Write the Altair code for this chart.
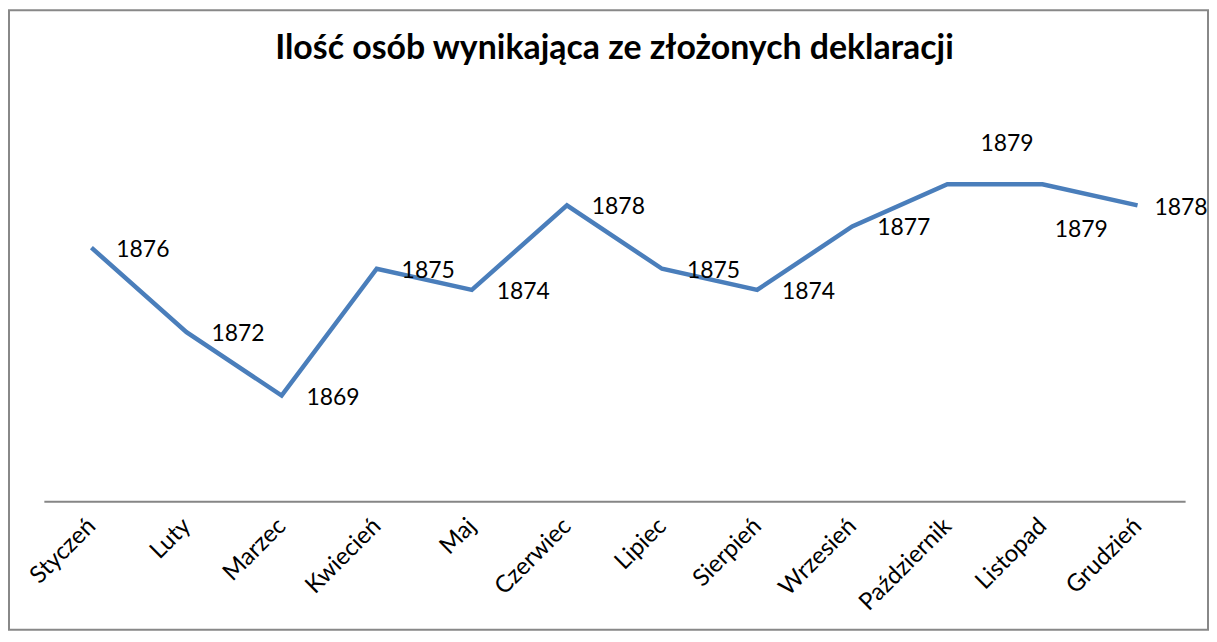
import altair as alt
import pandas as pd

months = ["Styczeń", "Luty", "Marzec", "Kwiecień", "Maj", "Czerwiec",
          "Lipiec", "Sierpień", "Wrzesień", "Październik", "Listopad", "Grudzień"]
values = [1876, 1872, 1869, 1875, 1874, 1878, 1875, 1874, 1877, 1879, 1879, 1878]
title_text = "Ilość osób wynikająca ze złożonych deklaracji"

df = pd.DataFrame({"month": months, "value": values})

W, H = 1146, 382
FONT = "Lato"

x = alt.X("month:N", sort=months,
          scale=alt.Scale(type="point", padding=0.5),
          axis=alt.Axis(title=None, labelAngle=-45, labelAlign="right",
                        labelBaseline="middle", labelFontSize=24, labelFont=FONT,
                        labelColor="#000000", labelPadding=21, ticks=False,
                        domainColor="#868686", domainWidth=2, grid=False,
                        labelLimit=300))
y = alt.Y("value:Q", scale=alt.Scale(domain=[1864, 1882], zero=False, nice=False),
          axis=None)

base = alt.Chart(df)

frame = alt.Chart(df).mark_rect(fill=None, stroke="#888888", strokeWidth=2).encode(
    x=alt.value(-35), x2=alt.value(W + 23), y=alt.value(-111), y2=alt.value(H + 129)
).transform_filter(alt.datum.month == "Styczeń")

line = base.mark_line(color="#4a7ebb", strokeWidth=4.5, strokeJoin="miter",
                      strokeCap="butt").encode(x=x, y=y)

txt_kw = dict(font=FONT, fontSize=23, color="#000000")

labels_main = base.mark_text(align="left", baseline="middle", dx=25, dy=2, **txt_kw).encode(
    x=x, y=y, text="value:Q"
).transform_filter(
    ~alt.FieldOneOfPredicate(field="month", oneOf=["Październik", "Listopad", "Grudzień"]))

labels_oct = base.mark_text(align="center", baseline="middle", dx=60, dy=-40, **txt_kw).encode(
    x=x, y=y, text="value:Q"
).transform_filter(alt.datum.month == "Październik")

labels_nov = base.mark_text(align="center", baseline="middle", dx=39, dy=46, **txt_kw).encode(
    x=x, y=y, text="value:Q"
).transform_filter(alt.datum.month == "Listopad")

labels_dec = base.mark_text(align="left", baseline="middle", dx=17, dy=3, **txt_kw).encode(
    x=x, y=y, text="value:Q"
).transform_filter(alt.datum.month == "Grudzień")

chart = alt.layer(frame, line, labels_main, labels_oct, labels_nov, labels_dec).properties(
    width=W, height=H,
    title=alt.TitleParams(title_text, font=FONT, fontSize=34, fontWeight="bold",
                          color="#000000", anchor="middle", offset=-57),
    autosize=alt.AutoSizeParams(type="none"),
    padding={"left": 36, "top": 112, "right": 24, "bottom": 132},
    background="#ffffff",
).configure_view(stroke=None)

chart.save("out.html", embed_options={"renderer": "svg", "actions": False})
